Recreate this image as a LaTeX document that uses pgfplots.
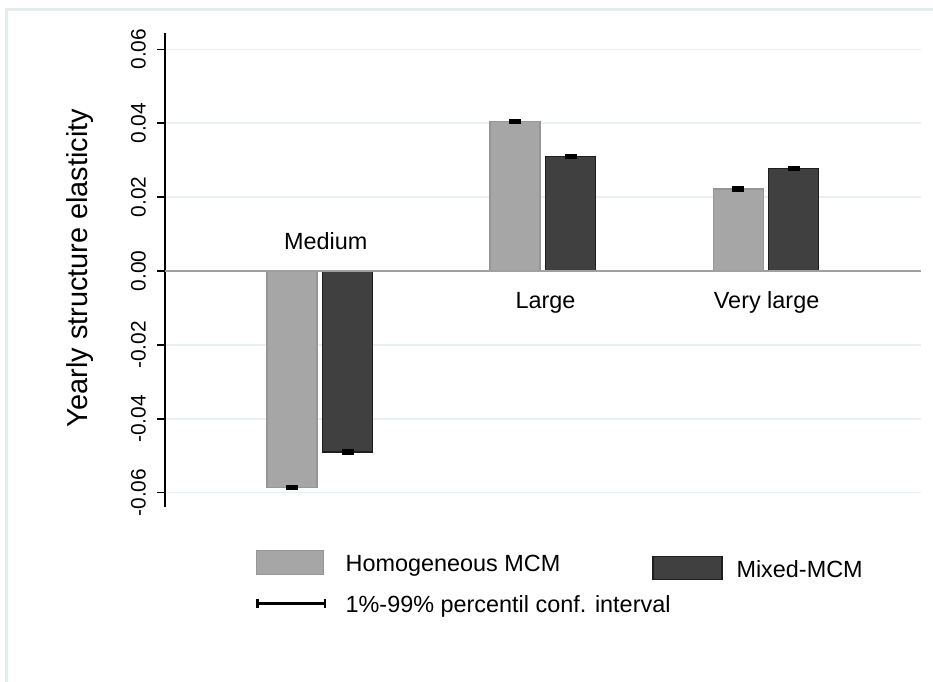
\documentclass[border=0pt]{standalone}
\usepackage{pgfplots}
\pgfplotsset{compat=1.18}
\usepackage{fontspec}
\setmainfont{Liberation Sans}
\definecolor{homfill}{RGB}{166,166,166}
\definecolor{homdraw}{RGB}{150,150,150}
\definecolor{mixfill}{RGB}{64,64,64}
\definecolor{mixdraw}{RGB}{30,30,30}
\definecolor{gridc}{RGB}{232,240,242}
\definecolor{framec}{RGB}{228,236,238}
\definecolor{zeroc}{RGB}{160,160,160}
\begin{document}
\begin{tikzpicture}
\path[use as bounding box] (0,0) rectangle (933bp,682bp);
\fill[white] (0,0) rectangle (933bp,682bp);
\draw[framec, line width=3bp] (6.5bp,0) -- (6.5bp,672.5bp) -- (933bp,672.5bp);
\begin{axis}[
  at={(165bp,175.3bp)}, anchor=south west,
  scale only axis, width=756bp, height=473.7bp,
  xmin=-0.6935, xmax=2.695, ymin=-0.0638, ymax=0.0644,
  axis x line=none, axis y line*=left,
  axis line style={black, line width=1.5bp, -},
  ytick={-0.06,-0.04,-0.02,0,0.02,0.04,0.06},
  scaled y ticks=false,
  tick align=outside, major tick length=8bp,
  tick style={black, line width=1.5bp},
  ymajorgrids, grid style={gridc, line width=1.5bp},
  yticklabel style={/pgf/number format/fixed, /pgf/number format/fixed zerofill, /pgf/number format/precision=2, /pgf/number format/assume math mode=true},
  yticklabel style={/tikz/rotate=90, /tikz/anchor=south, /tikz/inner xsep=0pt, /tikz/inner ysep=11bp, /tikz/font=\fontsize{21}{21}\selectfont},
  ylabel={Yearly structure elasticity},
  ylabel style={at={(axis description cs:-0.1124,0.504)}, anchor=center, font=\fontsize{29}{30}\selectfont},
  legend columns=2, legend cell align=left,
  legend style={at={(axis description cs:0.1183,-0.0914)}, anchor=north west, draw=none, fill=none,
    inner sep=0pt, font=\fontsize{23.5}{27}\selectfont, row sep=13.3bp,
    /tikz/column 1/.append style={column sep=16bp},
    /tikz/column 2/.append style={column sep=90bp},
    /tikz/column 3/.append style={column sep=12bp}},
]
\addplot[ybar, forget plot, bar width=50bp, bar shift=0pt, fill=homfill, draw=homdraw, line width=1.2bp,
  error bars/.cd, y dir=both, y explicit, error bar style={line width=12bp, black}, error mark=none]
  coordinates {(-0.1246,-0.0586) +- (0,0.0007) (0.8754,0.0404) +- (0,0.0007) (1.8754,0.0222) +- (0,0.0007)};
\addplot[ybar, forget plot, bar width=50bp, bar shift=0pt, fill=mixfill, draw=mixdraw, line width=1.2bp,
  error bars/.cd, y dir=both, y explicit, error bar style={line width=12bp, black}, error mark=none]
  coordinates {(0.1246,-0.0490) +- (0,0.0007) (1.1246,0.0310) +- (0,0.0007) (2.1246,0.0278) +- (0,0.0007)};
\draw[zeroc, line width=2bp] (axis cs:-0.6935,0) -- (axis cs:2.695,0);
\addlegendimage{legend image code/.code={\draw[fill=homfill, draw=homdraw, line width=1.2bp] (0bp,-10bp) rectangle (67bp,13.5bp);}}
\addlegendentry{Homogeneous MCM}
\addlegendimage{legend image code/.code={\draw[fill=mixfill, draw=mixdraw, line width=1.2bp] (0bp,-15bp) rectangle (69bp,8bp);}}
\addlegendentry[yshift=-5bp]{Mixed-MCM}
\addlegendimage{legend image code/.code={\draw[black, line width=3bp] (0bp,1.7bp) -- (70bp,1.7bp); \draw[black, line width=2.5bp] (1.25bp,-2.8bp) -- (1.25bp,6.2bp); \draw[black, line width=2.5bp] (68.75bp,-2.8bp) -- (68.75bp,6.2bp);}}
\addlegendentry{\makebox[0pt][l]{1\%-99\% percentil conf. interval}}
\node[font=\fontsize{23.5}{27}\selectfont, anchor=base] at (axis cs:0.027,0) [yshift=21bp] {Medium};
\node[font=\fontsize{23.5}{27}\selectfont, anchor=base] at (axis cs:1.012,0) [yshift=-37.7bp] {Large};
\node[font=\fontsize{23.5}{27}\selectfont, anchor=base] at (axis cs:2.003,0) [yshift=-37.7bp] {Very large};
\end{axis}
\end{tikzpicture}
\end{document}
